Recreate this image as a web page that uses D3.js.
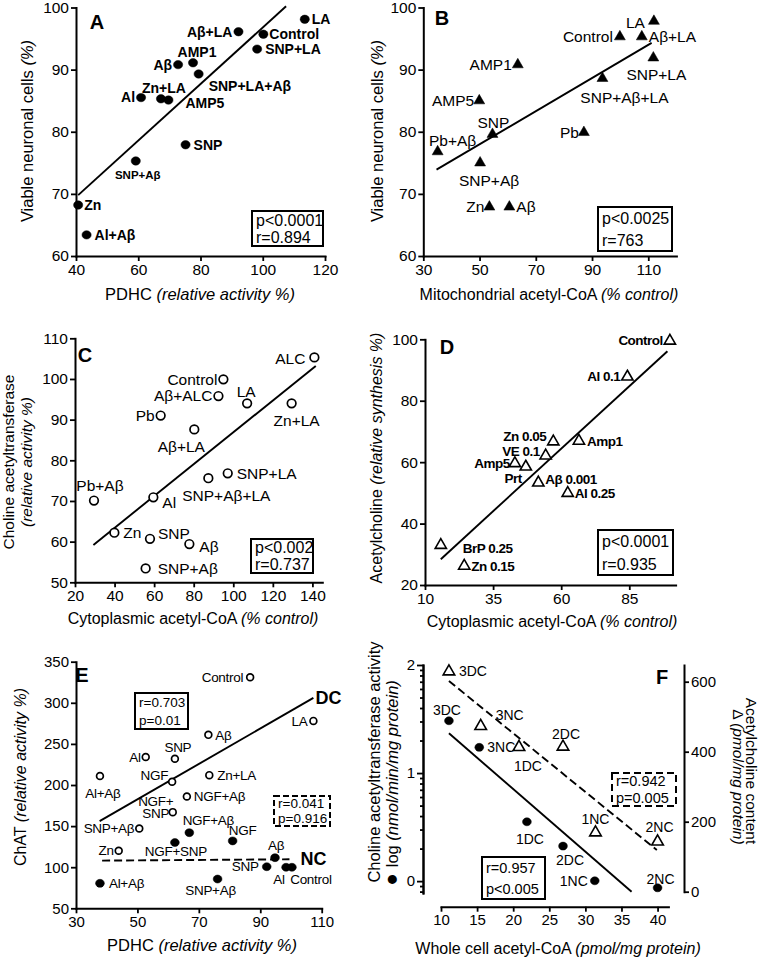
<!DOCTYPE html>
<html><head><meta charset="utf-8">
<script src="https://cdn.jsdelivr.net/npm/d3@7"></script>
<style>
body{margin:0;background:#fff;}
svg text{font-family:"Liberation Sans",Arial,Helvetica,sans-serif;fill:#000;}
</style></head><body>
<svg id="chart" width="761" height="958"></svg>
<script>
// ================= DATA =================
// Panel A
const aNames=["LA","Control","Aβ+LA","SNP+LA","AMP1","Aβ","SNP+LA+Aβ","Al","Zn+LA","AMP5","SNP","SNP+Aβ","Zn","Al+Aβ"];
const aPDHC=[113.5,100.2,92.2,98.2,77.6,72.8,79.4,60.9,67.3,69.7,75.2,59.2,40.7,43.4];
const aViable=[98.1,95.7,96.1,93.3,91.1,90.8,89.3,85.5,85.3,85.1,77.9,75.3,68.2,63.4];
const aFitX=[40.7,107.5], aFitY=[69.8,100.2];
const aStats=["p<0.0001","r=0.894"];
const aXTicks=[40,60,80,100,120], aYTicks=[60,70,80,90,100];
// Panel B
const bNames=["LA","Control","Aβ+LA","SNP+LA","AMP1","SNP+Aβ+LA","AMP5","SNP","Pb","Pb+Aβ","SNP+Aβ","Zn","Aβ"];
const bMitoCoA=[112.0,99.9,107.7,111.8,63.6,93.7,49.9,54.6,87.1,35.1,50.2,53.5,60.6];
const bViable=[97.8,95.3,95.3,91.9,90.8,88.6,85.0,79.6,79.9,76.8,75.0,67.9,67.9];
const bFitX=[34.7,111.2], bFitY=[73.9,94.3];
const bStats=["p<0.0025","r=763"];
const bXTicks=[30,50,70,90,110], bYTicks=[60,70,80,90,100];
// Panel C
const cNames=["ALC","Control","Aβ+ALC","LA","Zn+LA","Pb","Aβ+LA","SNP+LA","SNP+Aβ+LA","Pb+Aβ","Al","Zn","SNP","Aβ","SNP+Aβ"];
const cCytoCoA=[141,95,92.5,107,129.5,63.3,80.3,97.2,87.4,29.6,59.6,39.9,57.9,77.8,55.7];
const cChAT=[105.3,99.9,95.8,94.0,94.0,91.0,87.6,76.8,75.6,70.1,70.9,62.2,60.7,59.4,53.4];
const cFitX=[29.3,141.7], cFitY=[59.2,103.2];
const cStats=["p<0.002","r=0.737"];
const cXTicks=[20,40,60,80,100,120,140], cYTicks=[50,60,70,80,90,100,110];
// Panel D
const dNames=["Control","Al 0.1","Zn 0.05","Amp1","VE 0.1","Amp5","Prt","Aβ 0.001","Al 0.25","BrP 0.25","Zn 0.15"];
const dCytoCoA=[99.9,84.3,57.1,66.5,54.3,43.0,47.0,51.6,62.4,15.8,24.4];
const dACh=[99.5,87.8,66.7,66.9,62.1,59.6,58.5,53.3,49.9,33.0,26.2];
const dFitX=[15.8,99.0], dFitY=[28.4,96.1];
const dStats=["p<0.0001","r=0.935"];
const dXTicks=[10,35,60,85], dYTicks=[20,40,60,80,100];
// Panel E (DC = open, NC = filled)
const eDCNames=["Control","LA","Aβ","Al","SNP","Al+Aβ","NGF","Zn+LA","NGF+Aβ","NGF+\nSNP","SNP+Aβ","Zn"];
const eDCPDHC=[86.7,107.3,73.1,52.7,62.2,37.8,61.3,73.4,66.1,61.5,50.6,43.9];
const eDCChAT=[331,278,261,234,232,211,204,212,186,167,147,120];
const eNCNames=["NGF+Aβ","NGF+SNP","NGF","Aβ","SNP","Al","Control","SNP+Aβ","Al+Aβ"];
const eNCPDHC=[66.9,62.2,81.0,94.8,92.1,98.4,100.3,76.1,37.8];
const eNCChAT=[142,130,132,111.6,100.6,99.9,99.9,85.6,80.4];
const eDCFitX=[37.7,107.3], eDCFitY=[156,306];
const eNCFitX=[38.5,99.5], eNCFitY=[108,109.6];
const eDCStats=["r=0.703","p=0.01"], eNCStats=["r=0.041","p=0.916"];
const eXTicks=[30,50,70,90,110], eYTicks=[50,100,150,200,250,300,350];
// Panel F
const fNames=["3DC","3NC","1DC","2DC","1NC","2NC"];
const fChATx=[11.1,15.3,21.9,26.9,31.3,40.0];
const fChATlog=[1.484,1.238,0.549,0.324,0.003,-0.062];
const fAChx=[11.1,15.5,20.8,26.9,31.4,40.0];
const fACh=[629,473,413,414,169,143];
const fSolidX=[11.1,36.4], fSolidY=[1.368,-0.099];
const fDashX=[11.1,39.9], fDashY=[602,119];
const fSolidStats=["r=0.957","p<0.005"], fDashStats=["r=0.942","p=0.005"];
const fXTicks=[10,15,20,25,30,35,40], fLeftTicks=[0,1,2], fRightTicks=[0,200,400,600];

// ================= LAYOUT (label offsets: dx, dy, anchor, size) =================
const offA=[[7,0,'start'],[6,0,'start'],[-6,0,'end'],[8,0,'start'],[4,-11,'middle'],[-6,0,'end'],[10,12,'start'],[-6,0,'end'],[3,-11,'middle'],[17,3,'start'],[8,0,'start'],[2,14,'middle',11.5],[6,0,'start'],[8,0,'start']];
const offB=[[-9,1,'end'],[-7,0,'end'],[7,0,'start'],[3,17,'middle'],[-6,0,'end'],[22,19,'middle'],[-5,0,'end'],[1,-12,'middle'],[-5,0,'end'],[15,-11,'middle'],[9,18,'middle'],[-5,0,'end'],[7,0,'start']];
const offC=[[-9,1,'end'],[-6,0,'end'],[-6,0,'end'],[-1,-12,'middle'],[5,17,'middle'],[-6,0,'end'],[-13,17,'middle'],[9,0,'start'],[18,17,'middle'],[6,-15,'middle'],[9,5,'start'],[9,0,'start'],[8,-5,'start'],[10,3,'start'],[12,0,'start']];
const offD=[[-7,-1,'end'],[-7,0,'end'],[-7,-5,'end'],[8,0,'start'],[-6,-4,'end'],[-5,0,'end'],[-4,12,'end'],[7,-3,'start'],[7,0,'start'],[22,3,'start'],[7,0,'start']];
const offEDC=[[-7,0,'end'],[-6,0,'end'],[7,0,'start'],[-5,0,'end'],[3,-11,'middle'],[3,17,'middle'],[-4,-6,'end'],[8,0,'start'],[7,0,'start'],[-17,-5,'middle'],[-5,0,'end'],[-5,0,'end']];
const offENC=[[19,-12,'middle'],[1,9,'middle'],[10,-11,'middle'],[1,-12,'middle'],[-8,0,'end'],[-7,12,'middle'],[19,12,'middle'],[-7,11,'middle'],[9,0,'start']];
const offFc=[[-2,-11,'middle'],[8,0,'start'],[3,17,'middle'],[7,14,'middle'],[-7,0,'end'],[3,-9,'middle']];
const offFt=[[10,0,'start'],[29,-11,'middle'],[9,19,'middle'],[3,-13,'middle'],[0,-13,'middle'],[2,-15,'middle']];

const svg=d3.select('#chart');

function styleAxis(sel,fs){
  sel.select('.domain').attr('stroke','#000').attr('stroke-width',2).attr('stroke-linecap','square');
  sel.selectAll('.tick line').attr('stroke','#000').attr('stroke-width',1.8);
  sel.selectAll('.tick text').attr('font-size',fs).attr('fill','#000')
     .attr('font-family','"Liberation Sans",Arial,sans-serif');
}
function panel(c){
  const x=d3.scaleLinear().domain(c.xd).range(c.xr);
  const y=d3.scaleLinear().domain(c.yd).range(c.yr);
  const g=svg.append('g');
  g.append('g').attr('transform',`translate(0,${c.yr[0]})`)
    .call(d3.axisBottom(x).tickValues(c.xt).tickSize(5).tickPadding(3).tickSizeOuter(0).tickFormat(d3.format('d')))
    .call(styleAxis,c.fs);
  g.append('g').attr('transform',`translate(${c.xr[0]},0)`)
    .call(d3.axisLeft(y).tickValues(c.yt).tickSize(5).tickPadding(2).tickSizeOuter(0).tickFormat(d3.format('d')))
    .call(styleAxis,c.fs);
  return {g,x,y};
}
function fitLine(g,x,y,xs,ys,dash){
  const l=g.append('line').attr('x1',x(xs[0])).attr('y1',y(ys[0])).attr('x2',x(xs[1])).attr('y2',y(ys[1]))
    .attr('stroke','#000').attr('stroke-width',1.9);
  if(dash) l.attr('stroke-dasharray',dash);
}
function marks(g,x,y,xs,ys,type,r,filled){
  xs.forEach((v,i)=>{
    const px=x(v), py=y(ys[i]);
    if(type==='circle'){
      g.append('ellipse').attr('cx',px).attr('cy',py).attr('rx',filled?r+0.4:r).attr('ry',r)
       .attr('fill',filled?'#000':'#fff').attr('stroke','#000').attr('stroke-width',filled?0.5:1.7);
    } else {
      g.append('path').attr('d',d3.symbol(d3.symbolTriangle,r)()).attr('transform',`translate(${px},${py})`)
       .attr('fill',filled?'#000':'#fff').attr('stroke','#000').attr('stroke-width',filled?0.5:1.6);
    }
  });
}
function pointLabels(g,x,y,xs,ys,names,offs,fs,fw,ls){
  names.forEach((n,i)=>{
    const o=offs[i], size=o[3]||fs;
    const px=x(xs[i])+o[0], py=y(ys[i])+o[1];
    const lines=n.split('\n'), lh=size*0.85;
    const t=g.append('text').attr('text-anchor',o[2]).attr('font-size',size).attr('font-weight',fw);
    if(ls) t.attr('letter-spacing',ls);
    lines.forEach((l,j)=>{
      t.append('tspan').attr('x',px).attr('y',py+(j-(lines.length-1)/2)*lh+size*0.35).text(l);
    });
  });
}
function statBox(x0,y0,x1,y1,lines,fs,dash){
  const r=svg.append('rect').attr('x',x0).attr('y',y0).attr('width',x1-x0).attr('height',y1-y0)
    .attr('fill','#fff').attr('stroke','#000').attr('stroke-width',2);
  if(dash) r.attr('stroke-dasharray',dash);
  const h=(y1-y0)/lines.length;
  lines.forEach((l,i)=>svg.append('text').attr('x',x0+4).attr('y',y0+h*(i+0.5)+fs*0.36).attr('font-size',fs).text(l));
}
function title(parts,cx,cy,rot,fs){
  const t=svg.append('text').attr('transform',`translate(${cx},${cy}) rotate(${rot})`)
    .attr('text-anchor','middle').attr('y',fs*0.35).attr('font-size',fs);
  parts.forEach(p=>{
    const s=t.append('tspan').attr('font-style',p[1]?'italic':'normal').text(p[0]);
    if(p[2]) s.attr('font-size',p[2]);
  });
}
function letter(s,x,y){
  svg.append('text').attr('x',x).attr('y',y+7).attr('text-anchor','middle').attr('font-size',20).attr('font-weight','bold').text(s);
}

// ---------- Panel A
{
  const {g,x,y}=panel({xd:[40,120],xr:[76,325],yd:[60,100],yr:[256,7.5],xt:aXTicks,yt:aYTicks,fs:15.5});
  fitLine(g,x,y,aFitX,aFitY);
  marks(g,x,y,aPDHC,aViable,'circle',4.2,true);
  pointLabels(g,x,y,aPDHC,aViable,aNames,offA,14,'bold');
  statBox(252,211,323,246,aStats,16);
  letter('A',97,22);
  title([["Viable neuronal cells "],["(%)",1]],27,131,-90,16.5);
  title([["PDHC "],["(relative activity %)",1]],200,294,0,16.5);
}
// ---------- Panel B
{
  const {g,x,y}=panel({xd:[30,120],xr:[423.3,676.4],yd:[60,100],yr:[256,7.5],xt:bXTicks,yt:bYTicks,fs:15.5});
  fitLine(g,x,y,bFitX,bFitY);
  marks(g,x,y,bMitoCoA,bViable,'tri',52,true);
  pointLabels(g,x,y,bMitoCoA,bViable,bNames,offB,15.5,'normal');
  statBox(598,207,672,251,bStats,16);
  letter('B',442,18);
  title([["Viable neuronal cells "],["(%)",1]],377,131,-90,16.5);
  title([["Mitochondrial acetyl-CoA  "],["(% control)",1]],549,294,0,16);
}
// ---------- Panel C
{
  const {g,x,y}=panel({xd:[20,145],xr:[75,322.3],yd:[50,110],yr:[582.3,338.3],xt:cXTicks,yt:cYTicks,fs:15.5});
  fitLine(g,x,y,cFitX,cFitY);
  marks(g,x,y,cCytoCoA,cChAT,'circle',4.3,false);
  pointLabels(g,x,y,cCytoCoA,cChAT,cNames,offC,15.5,'normal');
  statBox(251,539,313,573,cStats,16);
  letter('C',85,355);
  title([["Choline acetyltransferase"]],9,462,-90,15.5);
  title([["(relative activity %)",1]],27,462,-90,15.5);
  title([["Cytoplasmic acetyl-CoA  "],["(% control)",1]],193,618,0,16);
}
// ---------- Panel D
{
  const {g,x,y}=panel({xd:[10,102],xr:[425,675.6],yd:[20,100],yr:[585,339.3],xt:dXTicks,yt:dYTicks,fs:15.5});
  fitLine(g,x,y,dFitX,dFitY);
  marks(g,x,y,dCytoCoA,dACh,'tri',55,false);
  pointLabels(g,x,y,dCytoCoA,dACh,dNames,offD,13.5,'bold','-0.5');
  statBox(598,530,673,575,dStats,16);
  letter('D',447,347);
  title([["Acetylcholine "],["(relative synthesis %)",1]],376,458,-90,16);
  title([["Cytoplasmic acetyl-CoA  "],["(% control)",1]],552,621,0,16);
}
// ---------- Panel E
{
  const {g,x,y}=panel({xd:[30,110],xr:[76,321.7],yd:[50,350],yr:[908.3,661.7],xt:eXTicks,yt:eYTicks,fs:15});
  fitLine(g,x,y,eDCFitX,eDCFitY);
  fitLine(g,x,y,eNCFitX,eNCFitY,'8,4');
  marks(g,x,y,eDCPDHC,eDCChAT,'circle',3.4,false);
  marks(g,x,y,eNCPDHC,eNCChAT,'circle',4,true);
  pointLabels(g,x,y,eDCPDHC,eDCChAT,eDCNames,offEDC,13.5,'normal','-0.3');
  pointLabels(g,x,y,eNCPDHC,eNCChAT,eNCNames,offENC,13.5,'normal','-0.3');
  g.append('text').attr('x',x(eDCFitX[1])+2).attr('y',y(eDCFitY[1])+6).attr('font-size',18).attr('font-weight','bold').text('DC');
  g.append('text').attr('x',x(eNCFitX[1])+11).attr('y',y(eNCFitY[1])+6).attr('font-size',18).attr('font-weight','bold').text('NC');
  statBox(135,693,188,729,eDCStats,13.5);
  statBox(274,796,330,826,eNCStats,13.5,'6,3');
  letter('E',82,675);
  title([["ChAT "],["(relative activity %)",1]],20,777,-90,16);
  title([["PDHC "],["(relative activity %)",1]],202,945,0,16.5);
}
// ---------- Panel F
{
  const x=d3.scaleLinear().domain([10,41.5]).range([441,668.4]);
  const yl=d3.scaleLinear().domain([-0.11,2]).range([893,665]);
  const yr=d3.scaleLinear().domain([0,647.7]).range([891.7,665]);
  const g=svg.append('g');
  g.append('g').attr('transform','translate(0,906.7)')
    .call(d3.axisBottom(x).tickValues(fXTicks).tickSize(5).tickPadding(3).tickSizeOuter(0).tickFormat(d3.format('d'))).call(styleAxis,15);
  g.append('g').attr('transform','translate(423,0)')
    .call(d3.axisLeft(yl).tickValues(fLeftTicks).tickSize(6).tickPadding(2).tickSizeOuter(0).tickFormat(d3.format('d'))).call(styleAxis,15);
  const minor=[];
  [-1,0,1].forEach(b=>{for(let k=2;k<=9;k++){const v=b+Math.log10(k); if(v>-0.11&&v<2) minor.push(v);}});
  g.append('g').attr('transform','translate(423,0)')
    .call(d3.axisLeft(yl).tickValues(minor).tickSize(3).tickFormat('').tickSizeOuter(0)).call(styleAxis,15);
  g.append('g').attr('transform','translate(684,0)')
    .call(d3.axisRight(yr).tickValues(fRightTicks).tickSize(5).tickPadding(2).tickSizeOuter(0).tickFormat(d3.format('d'))).call(styleAxis,15);
  fitLine(g,x,yl,fSolidX,fSolidY);
  fitLine(g,x,yr,fDashX,fDashY,'8,4');
  marks(g,x,yl,fChATx,fChATlog,'circle',4,true);
  marks(g,x,yr,fAChx,fACh,'tri',58,false);
  pointLabels(g,x,yl,fChATx,fChATlog,fNames,offFc,14,'normal');
  pointLabels(g,x,yr,fAChx,fACh,fNames,offFt,14,'normal');
  statBox(482,857,545,899,fSolidStats,14.5);
  statBox(612,773,676,806,fDashStats,14.5,'7,4');
  letter('F',662,677);
  title([["Choline acetyltransferase activity"]],374,762,-90,16.5);
  title([["● ",0,21],["log "],["(nmol/min/mg protein)",1]],392,783,-90,16.5);
  title([["Acetylcholine content"]],751,771,90,15.5);
  title([["Δ "],["(pmol/mg protein)",1]],738,777,90,15.5);
  title([["Whole cell acetyl-CoA  "],["(pmol/mg protein)",1]],558,948,0,16);
}
</script></body></html>
